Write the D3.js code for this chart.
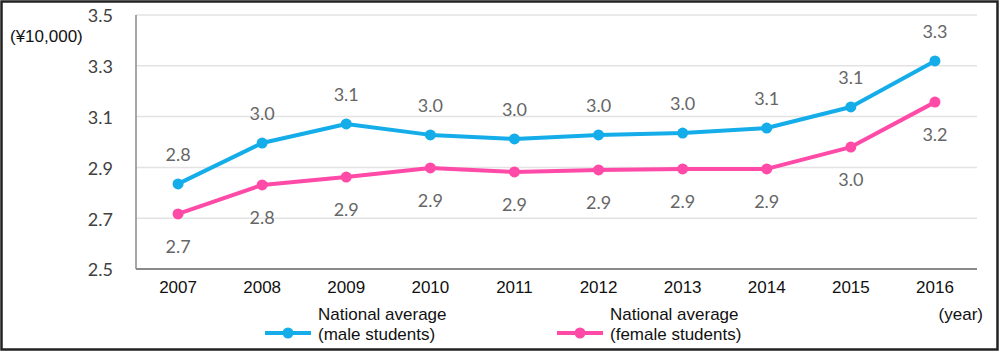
<!DOCTYPE html>
<html>
<head>
<meta charset="utf-8">
<script src="https://cdn.jsdelivr.net/npm/d3@7"></script>
<style>
  body { margin: 0; background: #fff; }
  svg { display: block; }
</style>
</head>
<body>
<div id="chart"></div>
<script>
// data
const years = ['2007', '2008', '2009', '2010', '2011', '2012', '2013', '2014', '2015', '2016'];
const maleValues = [2.835, 2.996, 3.071, 3.028, 3.012, 3.028, 3.035, 3.055, 3.138, 3.319];
const femaleValues = [2.717, 2.831, 2.862, 2.898, 2.882, 2.890, 2.894, 2.894, 2.980, 3.157];
const maleLabels = ['2.8', '3.0', '3.1', '3.0', '3.0', '3.0', '3.0', '3.1', '3.1', '3.3'];
const femaleLabels = ['2.7', '2.8', '2.9', '2.9', '2.9', '2.9', '2.9', '2.9', '3.0', '3.2'];
const yTicks = [2.5, 2.7, 2.9, 3.1, 3.3, 3.5];

const width = 1000;
const height = 352;
const margin = {left: 136, right: 23, top: 15, bottom: 83};

const blue = '#14adea';
const pink = '#ff4aa8';
const numFont = 'Lato, "Open Sans", sans-serif';
const arial = '"Liberation Sans", Arial, sans-serif';

const svg = d3.select('#chart').append('svg')
    .attr('width', width)
    .attr('height', height);

// outer frame
svg.append('rect')
    .attr('x', 1.5).attr('y', 1.5)
    .attr('width', width - 4).attr('height', height - 4)
    .attr('fill', 'none')
    .attr('stroke', '#222')
    .attr('stroke-width', 2.5);

const x = d3.scaleBand()
    .domain(years)
    .range([margin.left, width - margin.right]);

const y = d3.scaleLinear()
    .domain([2.5, 3.5])
    .range([height - margin.bottom, margin.top]);

const cx = d => x(d) + x.bandwidth() / 2;

// gridlines
svg.append('g')
    .selectAll('line')
    .data(yTicks.slice(1))
    .enter().append('line')
    .attr('x1', margin.left).attr('x2', width - margin.right)
    .attr('y1', d => y(d)).attr('y2', d => y(d))
    .attr('stroke', '#e3e3e3')
    .attr('stroke-width', 1.5);

// y axis line
svg.append('line')
    .attr('x1', margin.left).attr('x2', margin.left)
    .attr('y1', y(3.5)).attr('y2', y(2.5))
    .attr('stroke', '#8a8a8a')
    .attr('stroke-width', 1.5);

// x axis line
svg.append('line')
    .attr('x1', margin.left).attr('x2', width - margin.right)
    .attr('y1', y(2.5)).attr('y2', y(2.5))
    .attr('stroke', '#8a8a8a')
    .attr('stroke-width', 2);

// y tick labels
svg.append('g')
    .selectAll('text')
    .data(yTicks)
    .enter().append('text')
    .attr('x', 113)
    .attr('y', d => y(d) + 1)
    .attr('dy', '0.35em')
    .attr('text-anchor', 'end')
    .attr('font-family', numFont)
    .attr('font-size', 18)
    .attr('fill', '#404040')
    .text(d => d.toFixed(1));

// x tick labels
svg.append('g')
    .selectAll('text')
    .data(years)
    .enter().append('text')
    .attr('x', d => cx(d))
    .attr('y', 287)
    .attr('dy', '0.35em')
    .attr('text-anchor', 'middle')
    .attr('font-family', arial)
    .attr('font-size', 17)
    .attr('fill', '#111')
    .text(d => d);

// unit labels
svg.append('text')
    .attr('x', 10).attr('y', 36)
    .attr('dy', '0.35em')
    .attr('font-family', arial)
    .attr('font-size', 17)
    .attr('fill', '#111')
    .text('(¥10,000)');

svg.append('text')
    .attr('x', 983).attr('y', 314)
    .attr('dy', '0.35em')
    .attr('text-anchor', 'end')
    .attr('font-family', arial)
    .attr('font-size', 17)
    .attr('fill', '#111')
    .text('(year)');

// series
const line = d3.line()
    .x((d, i) => cx(years[i]))
    .y(d => y(d));

function drawSeries(values, labels, color, offset) {
    const g = svg.append('g');
    g.append('path')
        .datum(values)
        .attr('fill', 'none')
        .attr('stroke', color)
        .attr('stroke-width', 4)
        .attr('stroke-linejoin', 'round')
        .attr('d', line);
    g.selectAll('circle')
        .data(values)
        .enter().append('circle')
        .attr('cx', (d, i) => cx(years[i]))
        .attr('cy', d => y(d))
        .attr('r', 5.5)
        .attr('fill', color);
    g.selectAll('text')
        .data(values)
        .enter().append('text')
        .attr('x', (d, i) => cx(years[i]))
        .attr('y', d => y(d) + offset)
        .attr('dy', '0.35em')
        .attr('text-anchor', 'middle')
        .attr('font-family', numFont)
        .attr('font-size', 18)
        .attr('fill', '#666')
        .text((d, i) => labels[i]);
}

drawSeries(maleValues, maleLabels, blue, -29);
drawSeries(femaleValues, femaleLabels, pink, 33);

// legend
const legend = [
    {name: 'male students', color: blue, x: 265},
    {name: 'female students', color: pink, x: 557}
];

const item = svg.append('g').selectAll('g')
    .data(legend)
    .enter().append('g')
    .attr('transform', d => `translate(${d.x}, 0)`);

item.append('line')
    .attr('x1', 0).attr('x2', 46)
    .attr('y1', 333).attr('y2', 333)
    .attr('stroke', d => d.color)
    .attr('stroke-width', 4);

item.append('circle')
    .attr('cx', 23).attr('cy', 333)
    .attr('r', 5.5)
    .attr('fill', d => d.color);

item.append('text')
    .attr('x', 53).attr('y', 314)
    .attr('dy', '0.35em')
    .attr('font-family', arial)
    .attr('font-size', 17)
    .attr('fill', '#111')
    .text('National average');

item.append('text')
    .attr('x', 53).attr('y', 334)
    .attr('dy', '0.35em')
    .attr('font-family', arial)
    .attr('font-size', 17)
    .attr('fill', '#111')
    .text(d => `(${d.name})`);
</script>
</body>
</html>
